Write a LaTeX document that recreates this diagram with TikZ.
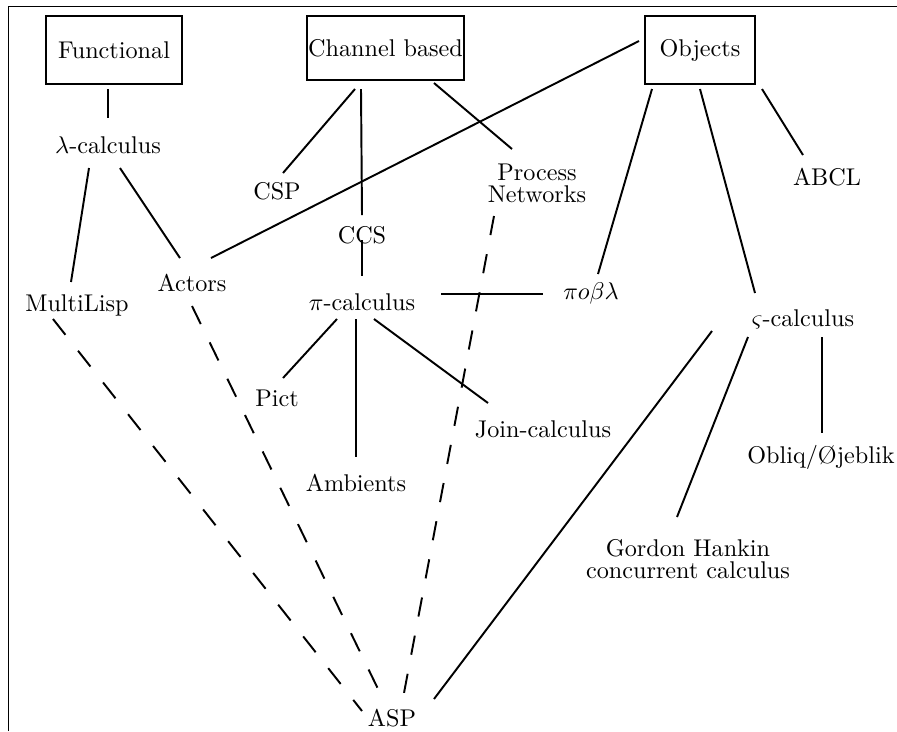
\documentclass[tikz,border=0pt]{standalone}
\usetikzlibrary{calc}
\begin{document}
\begin{tikzpicture}[x=0.4132pt,y=-0.4132pt,
  conn/.style={line width=0.8pt},
  dconn/.style={line width=0.8pt,dash pattern=on 8.3pt off 8.4pt},
  boxnode/.style={draw,line width=1pt,inner sep=0pt,anchor=center},
  lbl/.style={inner sep=0pt,anchor=center},
  two/.style={inner sep=0pt,anchor=center,align=center,font=\fontsize{10}{9}\selectfont}]
\useasboundingbox (0,0) rectangle (897,731);
\draw[line width=0.4pt] (8,731) -- (8,6) -- (897,6);
% boxes
\node[boxnode,minimum width=56.2pt,minimum height=28.1pt] (func) at (114,50) {Functional};
\node[boxnode,minimum width=64.9pt,minimum height=26.4pt] (chan) at (385.5,48) {Channel based};
\node[boxnode,minimum width=45.4pt,minimum height=28.1pt] (obj) at (700,50) {Objects};
% labels
\node[lbl] (lam) at (108,145) {$\lambda$-calculus};
\node[lbl] (csp) at (277,191) {CSP};
\node[two] (pn) at (537,183) {Process\\Networks};
\node[lbl] (abcl) at (827,177) {ABCL};
\node[lbl] (ccs) at (362,235) {CCS};
\node[lbl] (act) at (192,283) {Actors};
\node[lbl] (ml) at (77,305) {MultiLisp};
\node[lbl] (pi) at (362,302) {$\pi$-calculus};
\node[lbl] (pob) at (591,293) {$\pi o\beta\lambda$};
\node[lbl] (sig) at (803,319) {$\varsigma$-calculus};
\node[lbl] (pict) at (277,398) {Pict};
\node[lbl] (join) at (543,429) {Join-calculus};
\node[lbl] (amb) at (356,483) {Ambients};
\node[lbl] (obl) at (821,457) {Obliq/\O jeblik};
\node[two] (gh) at (688,559) {Gordon Hankin\\concurrent calculus};
\node[lbl] (asp) at (392,718) {ASP};
% solid connectors
\draw[conn] ([shift={(-6,39)}]func.center) -- ([shift={(0,-27)}]lam.center);
\draw[conn] ([shift={(-19,23)}]lam.center) -- ([shift={(-6,-23)}]ml.center);
\draw[conn] ([shift={(12,23)}]lam.center) -- ([shift={(-12,-25)}]act.center);
\draw[conn] ([shift={(-30.5,41)}]chan.center) -- ([shift={(6,-18)}]csp.center);
\draw[conn] ([shift={(-24.5,41)}]chan.center) -- ([shift={(0,-20)}]ccs.center);
\draw[conn] ([shift={(0,5)}]ccs.center) -- ([shift={(0,-26)}]pi.center);
\draw[conn] ([shift={(48.5,35)}]chan.center) -- ([shift={(-25,-34)}]pn.center);
\draw[conn] ([shift={(-61,-9)}]obj.center) -- ([shift={(19,-25)}]act.center);
\draw[conn] ([shift={(-48,39)}]obj.center) -- ([shift={(7,-19)}]pob.center);
\draw[conn] ([shift={(0,39)}]obj.center) -- ([shift={(-48,-26)}]sig.center);
\draw[conn] ([shift={(62,39)}]obj.center) -- ([shift={(-24,-22)}]abcl.center);
\draw[conn] ([shift={(79,-8)}]pi.center) -- ([shift={(-48,1)}]pob.center);
\draw[conn] ([shift={(-25,17)}]pi.center) -- ([shift={(6,-20)}]pict.center);
\draw[conn] ([shift={(-6,17)}]pi.center) -- ([shift={(0,-26)}]amb.center);
\draw[conn] ([shift={(12,17)}]pi.center) -- ([shift={(-55,-26)}]join.center);
\draw[conn] ([shift={(19,18)}]sig.center) -- ([shift={(1,-24)}]obl.center);
\draw[conn] ([shift={(-55,18)}]sig.center) -- ([shift={(-11,-42)}]gh.center);
\draw[conn] ([shift={(-91,12)}]sig.center) -- ([shift={(42,-19)}]asp.center);
% dashed connectors
\draw[dconn] ([shift={(-24,14)}]ml.center) -- ([shift={(-30,-7)}]asp.center);
\draw[dconn] ([shift={(0,23)}]act.center) -- ([shift={(-12,-25)}]asp.center);
\draw[dconn,dash pattern=on 8.02pt off 8.02pt] ([shift={(-43,33)}]pn.center) -- ([shift={(12,-25)}]asp.center);
\end{tikzpicture}
\end{document}
